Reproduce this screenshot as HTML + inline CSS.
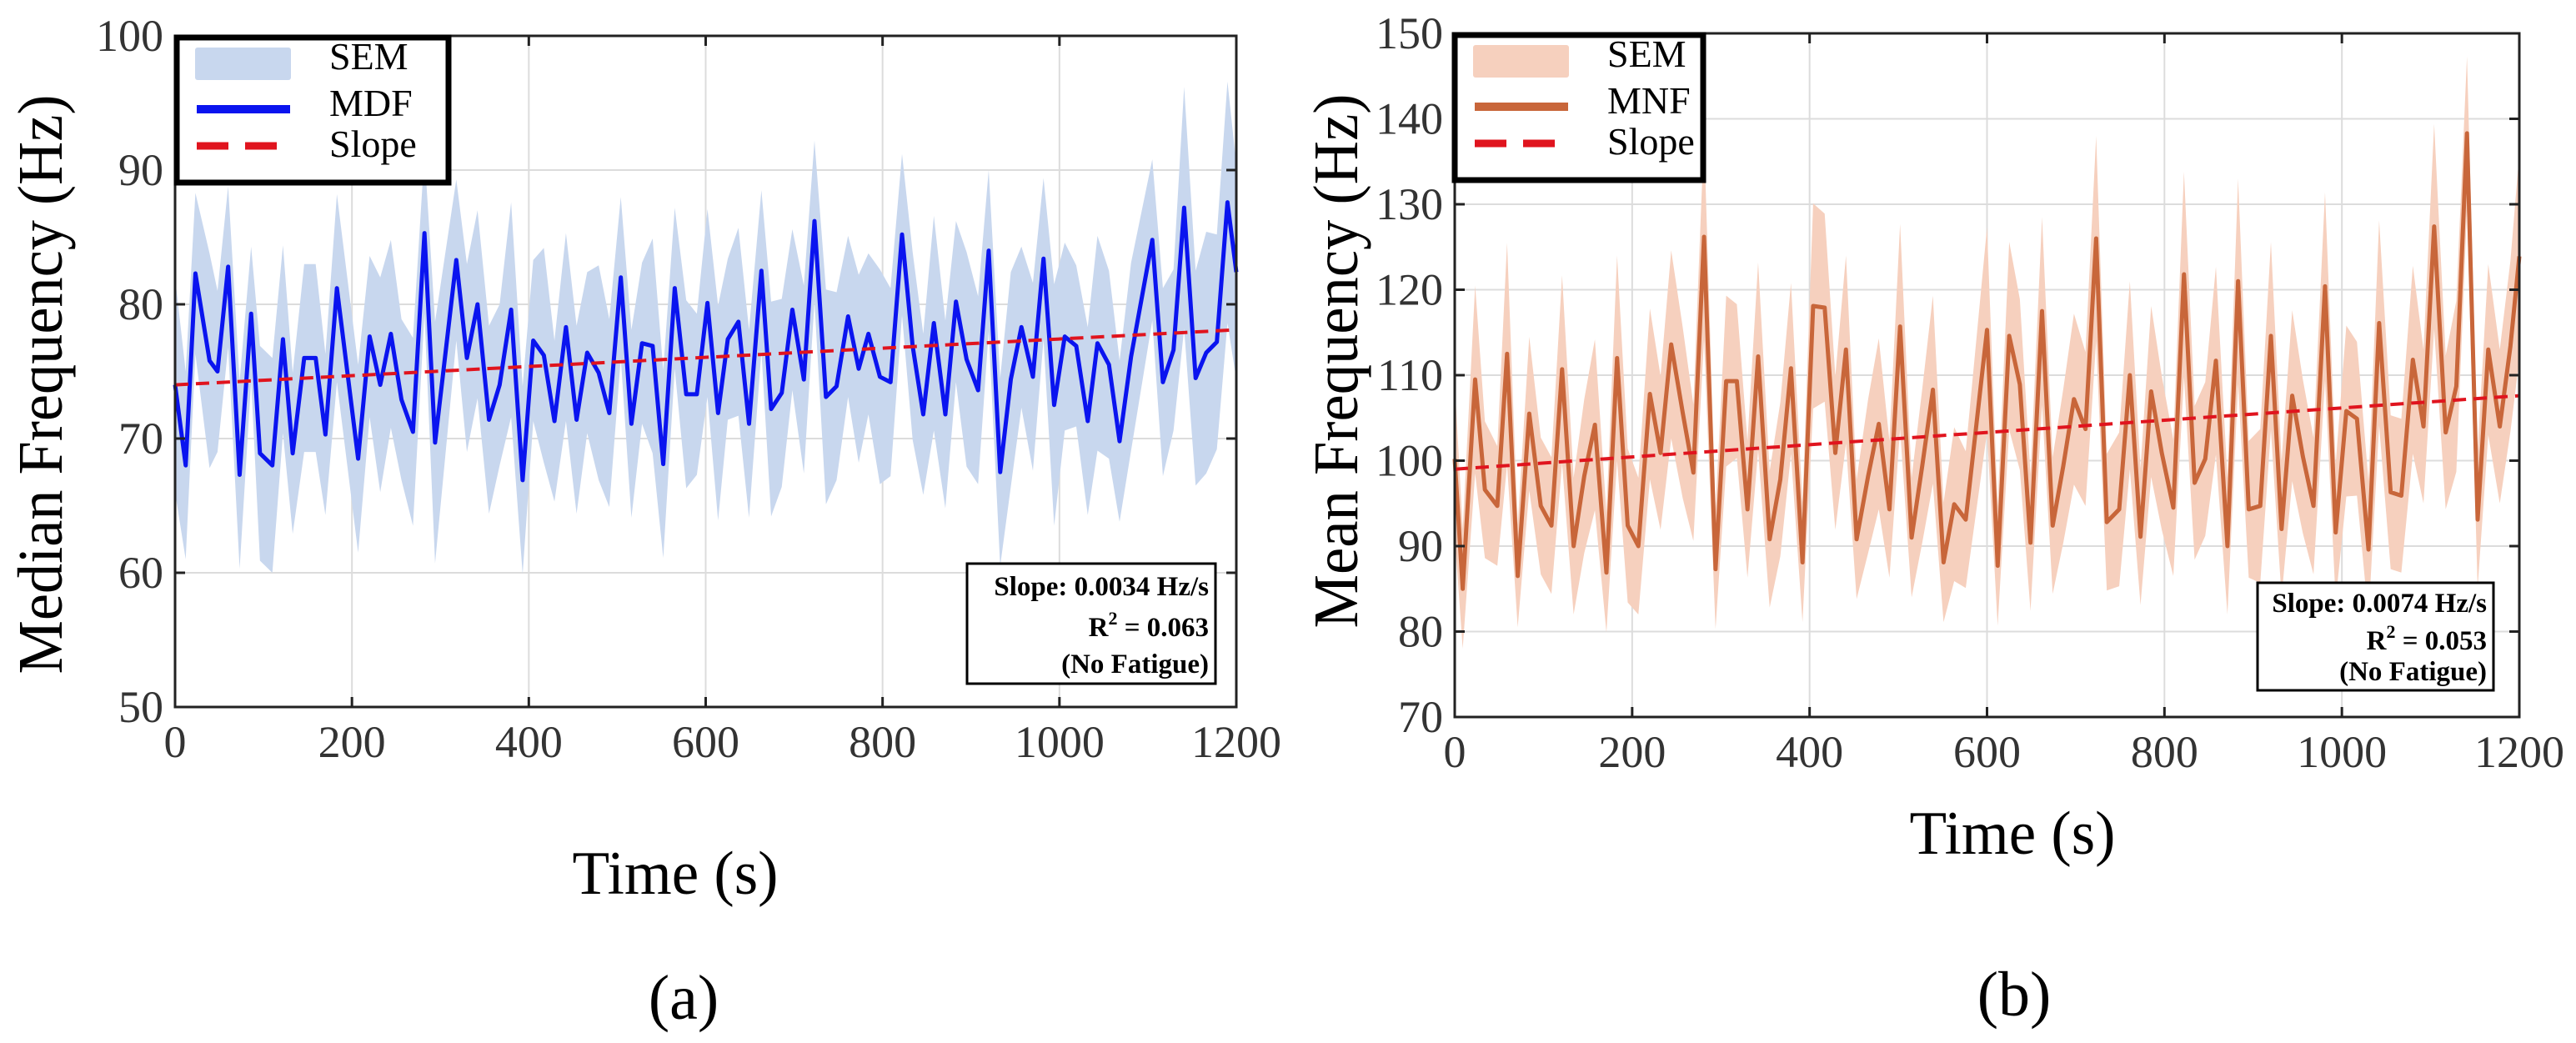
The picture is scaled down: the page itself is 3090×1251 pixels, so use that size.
<!DOCTYPE html>
<html><head><meta charset="utf-8"><style>
html,body{margin:0;padding:0;background:#fff;}
svg{display:block;font-family:"Liberation Serif",serif;}
</style></head><body>
<svg id="fig" width="3090" height="1251" viewBox="0 0 3090 1251" xmlns="http://www.w3.org/2000/svg"></svg>
<script>
// ---- Panel (a) data ----
const tA = [0,12,23,39,48,60,73,86,96,110,122,133,146,159,170,183,207,220,232,244,256,269,282,294,318,330,342,355,367,380,393,405,417,429,442,454,466,479,491,504,516,528,540,552,565,578,590,602,614,625,637,649,663,674,686,698,711,723,736,748,761,773,784,797,809,822,834,846,858,871,883,895,908,920,933,945,957,970,982,994,1006,1019,1032,1043,1056,1068,1081,1105,1117,1129,1141,1154,1166,1178,1190,1200];
const mdf = [74.0,68.0,82.3,75.8,75.0,82.8,67.3,79.3,68.9,68.0,77.4,68.9,76.0,76.0,70.3,81.2,68.5,77.6,74.0,77.8,72.9,70.5,85.3,69.7,83.3,76.0,80.0,71.4,74.0,79.6,66.9,77.3,76.2,71.3,78.3,71.4,76.4,74.9,71.9,82.0,71.1,77.1,76.9,68.1,81.2,73.3,73.3,80.1,71.9,77.4,78.7,71.1,82.5,72.2,73.4,79.6,74.4,86.2,73.1,73.9,79.1,75.2,77.8,74.6,74.2,85.2,76.9,71.8,78.6,71.8,80.2,75.9,73.6,84.0,67.5,74.4,78.3,74.6,83.4,72.5,77.6,76.9,71.3,77.1,75.5,69.8,76.1,84.8,74.2,76.6,87.2,74.5,76.4,77.2,87.6,82.4];
const semA = [8,7,6,8,6,6,7,5,8,8,7,6,7,7,6,7,7,6,8,7,6,7,6,9,6,7,7,7,6,8,7,6,8,6,7,7,6,8,7,6,7,6,8,7,6,7,6,7,8,6,7,7,6,8,7,6,7,6,8,7,6,7,6,8,7,6,7,6,8,7,6,8,7,6,7,8,6,7,6,9,7,6,7,8,7,6,7,6,7,6,9,8,9,8,9,8];
const slopeA = [74.0, 78.1];
const yTicksA = [50,60,70,80,90,100];
// ---- Panel (b) data ----
const tB = [0,9,23,34,48,59,71,84,97,109,121,134,146,158,171,183,195,207,220,232,244,257,269,281,294,306,318,330,342,355,367,379,392,404,417,429,441,453,466,478,490,502,515,527,539,551,563,576,600,612,625,637,649,662,674,686,698,711,723,735,749,761,773,785,797,810,822,834,846,858,871,883,895,908,920,932,944,956,968,981,993,1005,1017,1030,1042,1055,1067,1080,1092,1104,1117,1129,1141,1153,1165,1178,1190,1200];
const mnf = [100.2,85.0,109.5,96.6,94.7,112.5,86.5,105.5,94.7,92.4,110.7,90.0,98.2,104.2,86.9,112.0,92.4,90.0,107.8,100.9,113.6,105.6,98.6,126.2,87.3,109.3,109.3,94.3,112.2,90.8,97.8,110.8,88.1,118.1,117.9,100.9,113.0,90.8,98.2,104.3,94.3,115.7,91.0,99.4,108.3,88.1,94.9,93.1,115.3,87.7,114.6,108.9,90.4,117.5,92.4,99.4,107.2,103.7,126.0,92.8,94.3,110.0,91.1,108.1,100.9,94.5,121.8,97.4,100.2,111.7,90.0,121.0,94.3,94.7,114.6,92.0,107.6,100.5,94.7,120.4,91.6,105.8,104.9,89.6,116.1,96.3,95.9,111.8,104.0,127.4,103.3,108.7,138.3,93.1,113.0,104.0,113.4,123.9];
const semB = [9,7,11,8,7,13,6,9,8,8,11,8,9,10,7,12,9,8,10,9,11,10,8,12,7,10,9,8,11,8,9,10,7,12,11,9,11,7,9,10,8,12,7,9,11,7,9,8,12,7,11,10,8,11,8,9,10,9,12,8,9,11,8,10,9,8,12,9,9,11,8,12,8,9,11,8,10,9,8,11,8,10,9,8,12,9,9,11,9,12,9,10,9,8,10,9,10,12];
const slopeB = [99.0, 107.6];
const yTicksB = [70,80,90,100,110,120,130,140,150];
const xTicks = [0,200,400,600,800,1000,1200];

const NS = "http://www.w3.org/2000/svg";
const svg = document.getElementById('fig');
function mk(tag, attrs, parent){ const e=document.createElementNS(NS,tag); for(const k in attrs) e.setAttribute(k,attrs[k]); (parent||svg).appendChild(e); return e; }

function panel(cfg){
  const g = mk('g',{});
  
  
  const {L,R,T,B,ymin,ymax} = cfg;
  const sx = t => L + (t/1200)*(R-L);
  const sy = v => B - (v-ymin)/(ymax-ymin)*(B-T);
  // grid
  xTicks.forEach(t=>{ const l=mk('line',{x1:sx(t),x2:sx(t),y1:T,y2:B,stroke:'#dcdcdc','stroke-width':2},g);
      });
  cfg.yTicks.forEach(v=>{ const l=mk('line',{x1:L,x2:R,y1:sy(v),y2:sy(v),stroke:'#dcdcdc','stroke-width':2},g);
      });
  // SEM band
  let up='', lo='';
  cfg.t.forEach((t,i)=>{ const s=cfg.sem[i]??7; up += (i?'L':'M')+sx(t)+','+sy(cfg.v[i]+s); });
  for(let i=cfg.t.length-1;i>=0;i--){ const s=cfg.sem[i]??7; lo += 'L'+sx(cfg.t[i])+','+sy(cfg.v[i]-s); }
  const band = mk('path',{d:up+lo+'Z',fill:cfg.bandColor,stroke:'none'},g);
   
  // line
  const ln = mk('polyline',{points:cfg.t.map((t,i)=>sx(t)+','+sy(cfg.v[i])).join(' '),fill:'none',stroke:cfg.lineColor,'stroke-width':cfg.lw,'stroke-linejoin':'round'},g);
   
  // slope
  const sl = mk('line',{x1:sx(0),y1:sy(cfg.slope[0]),x2:sx(1200),y2:sy(cfg.slope[1]),stroke:'#e0141e','stroke-width':4,'stroke-dasharray':'16,9'},g);
   
  // frame
  const fr = mk('rect',{x:L,y:T,width:R-L,height:B-T,fill:'none',stroke:'#222','stroke-width':3},g);
   
  // ticks + labels
  xTicks.forEach(t=>{
    mk('line',{x1:sx(t),x2:sx(t),y1:B,y2:B-12,stroke:'#222','stroke-width':3},g);
    mk('line',{x1:sx(t),x2:sx(t),y1:T,y2:T+12,stroke:'#222','stroke-width':3},g);
    const tx = mk('text',{x:sx(t),y:B+60,'font-size':54,'text-anchor':'middle',fill:'#333'},g);
    tx.textContent=t;  
  });
  cfg.yTicks.forEach(v=>{
    mk('line',{x1:L,x2:L+12,y1:sy(v),y2:sy(v),stroke:'#222','stroke-width':3},g);
    mk('line',{x1:R,x2:R-12,y1:sy(v),y2:sy(v),stroke:'#222','stroke-width':3},g);
    const tx = mk('text',{x:L-14,y:sy(v)+18,'font-size':54,'text-anchor':'end',fill:'#333'},g);
    tx.textContent=v;  
  });
  // axis titles
  const yt = mk('text',{x:0,y:0,'font-size':76,'text-anchor':'middle',transform:`translate(${cfg.ytX},${cfg.ytY}) rotate(-90)`,textLength:cfg.ytLen,lengthAdjust:'spacingAndGlyphs'},g);
  yt.textContent=cfg.yTitle;  
  const xt = mk('text',{x:cfg.xtX,y:cfg.xtY,'font-size':74,'text-anchor':'middle',textLength:247,lengthAdjust:'spacingAndGlyphs'},g);
  xt.textContent='Time (s)';  
  const pl = mk('text',{x:cfg.plX,y:cfg.plY,'font-size':76,'text-anchor':'middle'},g);
  pl.textContent=cfg.panelLabel;  
  // legend
  const lg = mk('g',{},g);  
  const lx=cfg.legX, ly=T+2;
  mk('rect',{x:lx,y:ly,width:cfg.legW,height:174,fill:'#fff',stroke:'#000','stroke-width':7},lg);
  const sw=mk('rect',{x:lx+22,y:ly+12,width:115,height:39,rx:3,fill:cfg.bandColor},lg);
   
  mk('line',{x1:lx+24,x2:lx+136,y1:ly+86,y2:ly+86,stroke:cfg.lineColor,'stroke-width':10},lg);
  mk('line',{x1:lx+24,x2:lx+136,y1:ly+130,y2:ly+130,stroke:'#e0141e','stroke-width':9,'stroke-dasharray':'38,20'},lg);
  [['SEM',ly+38],[cfg.lineLabel,ly+94],['Slope',ly+143]].forEach(([s,y])=>{
    const tx=mk('text',{x:lx+cfg.legTx,y:y,'font-size':46},lg); tx.textContent=s;
     
  });
  // annotation
  const an = mk('g',{},g);  
  const a=cfg.ann;
  mk('rect',{x:a.x,y:a.y,width:a.w,height:a.h,fill:'#fff',stroke:'#000','stroke-width':3},an);
  const t1=mk('text',{x:a.tx,y:a.b[0],'font-size':33,'font-weight':'bold','text-anchor':'end'},an); t1.textContent=cfg.slopeText;
  const t2=mk('text',{x:a.tx,y:a.b[1],'font-size':33,'font-weight':'bold','text-anchor':'end'},an);
  t2.innerHTML='R<tspan dy="-14" font-size="22">2</tspan><tspan dy="14"> = '+cfg.r2+'</tspan>';
  const t3=mk('text',{x:a.tx,y:a.b[2],'font-size':33,'font-weight':'bold','text-anchor':'end'},an); t3.textContent='(No Fatigue)';
}

panel({name:'panel-a-mdf',L:210,R:1483,T:43,B:848,ymin:50,ymax:100,yTicks:yTicksA,t:tA,v:mdf,sem:semA,slope:slopeA,
  bandColor:'#c8d7ee',lineColor:'#0a14ef',lw:5,lineName:'mdf-line',lineLabel:'MDF',
  yTitle:'Median Frequency (Hz)',ytX:74,ytY:461,ytLen:695,xtX:810,xtY:1072,plX:820,plY:1222,panelLabel:'(a)',
  legX:212,legW:326,legTx:183,
  ann:{x:1160,y:676,w:298,h:144,tx:1450,b:[714,763,807]},slopeText:'Slope: 0.0034 Hz/s',r2:'0.063'});
panel({name:'panel-b-mnf',L:1745,R:3022,T:40,B:860,ymin:70,ymax:150,yTicks:yTicksB,t:tB,v:mnf,sem:semB,slope:slopeB,
  bandColor:'#f6d0be',lineColor:'#c8663a',lw:5,lineName:'mnf-line',lineLabel:'MNF',
  yTitle:'Mean Frequency (Hz)',ytX:1628,ytY:433,ytLen:641,xtX:2414,xtY:1024,plX:2416,plY:1218,panelLabel:'(b)',
  legX:1745,legW:298,legTx:183,
  ann:{x:2708,y:699,w:283,h:129,tx:2983,b:[734,779,816]},slopeText:'Slope: 0.0074 Hz/s',r2:'0.053'});
</script>
</body></html>
